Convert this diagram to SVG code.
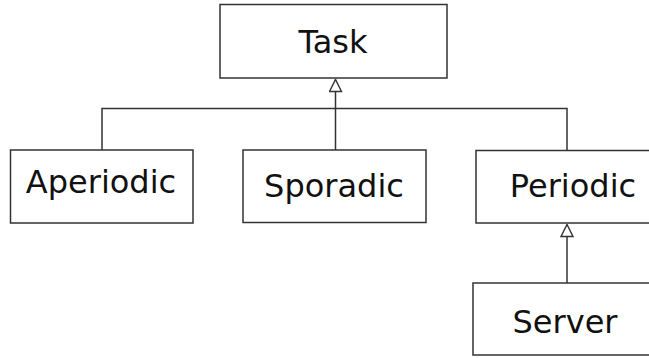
<svg xmlns="http://www.w3.org/2000/svg" width="649" height="358" viewBox="0 0 649 358">
  <style>
    .box { fill: #ffffff; stroke: #333333; stroke-width: 1.5; }
    .label { font-family: "DejaVu Sans", sans-serif; font-size: 32px; fill: #111111; text-anchor: middle; }
    .edge { fill: none; stroke: #333333; stroke-width: 1.5; }
  </style>
  <defs>
    <!-- hollow generalization triangle, tip at the line end -->
    <marker id="inherit" viewBox="0 0 14 14" refX="13" refY="7" markerWidth="14" markerHeight="14" markerUnits="userSpaceOnUse" orient="auto">
      <path d="M1,1 L13,7 L1,13 Z" fill="#ffffff" stroke="#333333" stroke-width="1.4"/>
    </marker>
  </defs>
  <rect width="649" height="358" fill="#ffffff"/>

  <g id="connectors">
    <polyline class="edge" points="102,150 102,108.5 567,108.5 567,150"/>
    <line class="edge" x1="335.5" y1="150" x2="335.5" y2="79.5" marker-end="url(#inherit)"/>
    <line class="edge" x1="567" y1="283" x2="567" y2="224.5" marker-end="url(#inherit)"/>
  </g>

  <g id="task">
    <rect class="box" x="220" y="4.5" width="227" height="73.5"/>
    <text class="label" x="333" y="53">Task</text>
  </g>
  <g id="aperiodic">
    <rect class="box" x="10.5" y="150" width="182.5" height="73"/>
    <text class="label" x="101" y="193">Aperiodic</text>
  </g>
  <g id="sporadic">
    <rect class="box" x="243" y="150" width="183" height="72.5"/>
    <text class="label" x="334" y="197">Sporadic</text>
  </g>
  <g id="periodic">
    <rect class="box" x="476" y="150.5" width="194" height="72.5"/>
    <text class="label" x="573" y="197">Periodic</text>
  </g>
  <g id="server">
    <rect class="box" x="473" y="283" width="184" height="72"/>
    <text class="label" x="565" y="333">Server</text>
  </g>
</svg>
